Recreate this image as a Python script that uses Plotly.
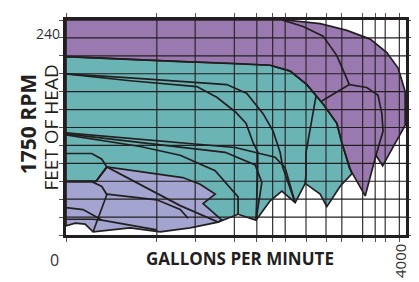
import plotly.graph_objects as go

# ---------------- data (GPM, feet of head) ----------------
x_ticks = [0, 1090, 1550, 2020, 2290, 2480, 2630, 2880, 3120, 3310, 3560, 3710, 3830, 4000]
y_ticks = [20, 40, 60, 80, 100, 120, 140, 160, 180, 200, 220, 240, 260]

# purple family (largest pumps)
purple_gpm = [0, 2630, 3050, 3370, 3650, 3850, 3985, 4070, 4070, 3800, 3720, 3590, 3480, 3400,
              3310, 3250, 3085, 2890, 2690, 2450, 1970, 1310, 0]
purple_ft = [260, 260, 256, 248.4, 238.7, 223.6, 206.3, 180.3, 142.5, 97.1, 109, 63.6, 81.9, 94.9,
             123.1, 144.7, 166.3, 187.9, 203, 209.5, 211.7, 213.8, 219.2]
purple_a_gpm = [2600, 2845, 3085, 3250, 3350, 3400]
purple_a_ft = [259.8, 252.8, 242, 220.3, 198.7, 187.9]
purple_b_gpm = [3400, 3070]
purple_b_ft = [187.9, 169.5]
purple_c_gpm = [3400, 3610, 3745, 3790, 3805, 3720]
purple_c_ft = [187.9, 184.7, 176, 155.5, 136, 109]

# teal family
teal_gpm = [0, 1310, 1970, 2450, 2690, 2890, 3085, 3250, 3310, 3430, 3290, 3130, 3050, 2870,
            2750, 2590, 2450, 2280, 2065, 1825, 1370, 490, 360, 0]
teal_ft = [219.2, 213.8, 211.7, 209.5, 203, 187.9, 166.3, 144.7, 123.1, 88.4, 74.4, 51.7, 65.7, 77.6,
           56, 69, 58.2, 36.6, 43.1, 34.4, 52.8, 96, 79.8, 79.8]
teal_2_gpm = [0, 770, 1570, 1810, 2030, 2160, 2245, 2300, 2300, 2280]
teal_2_ft = [199.8, 192.2, 185.7, 173.8, 157.6, 144.7, 123.1, 113, 90, 36.6]
teal_3_gpm = [0, 770, 1930, 2170, 2365, 2485, 2570, 2600, 2750]
teal_3_ft = [199.8, 195.5, 187.9, 178.1, 155.5, 136, 112, 96, 56]
teal_5_gpm = [3000, 2930, 2880, 2880, 2870]
teal_5_ft = [175, 136, 112, 87.4, 77.6]
teal_f1_gpm = [0, 1310, 2030, 2510, 2630, 2750]
teal_f1_ft = [133.9, 123.1, 117.7, 106.9, 95, 56]
teal_f2_gpm = [0, 1310, 1910, 2270, 2350, 2280]
teal_f2_ft = [132.8, 118.8, 112.3, 98.3, 78.8, 36.6]
teal_f3_gpm = [0, 890, 1370, 1790, 2065, 2065]
teal_f3_ft = [131.7, 118.8, 109, 91.7, 62.5, 43.1]
teal_small_gpm = [0, 310, 430, 490, 360]
teal_small_ft = [111, 111, 104.6, 96, 79.8]

# lavender family
lav_gpm = [0, 360, 490, 1010, 1400, 1610, 1790, 1645, 1870, 1825, 1490, 1130, 770, 325, 230, 110, 0]
lav_ft = [79.8, 79.8, 96, 89.5, 84.1, 76.6, 65.7, 55, 36.6, 34.4, 27.9, 23.6, 27.9, 23.6, 32.2, 33.3, 30.1]
lav_1_gpm = [0, 310, 430, 490, 325]
lav_1_ft = [79.5, 79.5, 74.2, 65, 23.6]
lav_2_gpm = [490, 1090, 1370, 1465]
lav_2_ft = [65.7, 59.3, 48.5, 38.7]
lav_3_gpm = [0, 205, 370, 430]
lav_3_ft = [50.6, 48.4, 39.8, 36.6]
lav_4_gpm = [0, 325, 430, 1090]
lav_4_ft = [37.6, 37.6, 36.6, 25.8]

PURPLE = "#9a79b0"
TEAL = "#6ab4b6"
LAV = "#a3a4cf"
INK = "#231f20"

fig = go.Figure()

regions = [(purple_gpm, purple_ft, PURPLE), (teal_gpm, teal_ft, TEAL), (lav_gpm, lav_ft, LAV)]
for gx, gy, col in regions:
    fig.add_trace(go.Scatter(x=gx, y=gy, mode="lines", fill="toself", fillcolor=col,
                             line=dict(width=0), hoverinfo="skip", showlegend=False))

# gridlines drawn above the fills
gx, gy = [], []
for v in x_ticks[1:]:
    gx += [v, v, None]
    gy += [y_ticks[0], y_ticks[-1], None]
for v in y_ticks[1:-1]:
    gx += [0, 4080, None]
    gy += [v, v, None]
fig.add_trace(go.Scatter(x=gx, y=gy, mode="lines", line=dict(color=INK, width=1.1),
                         hoverinfo="skip", showlegend=False))

outlines = [
    (purple_gpm + purple_gpm[:1], purple_ft + purple_ft[:1]),
    (purple_a_gpm, purple_a_ft), (purple_b_gpm, purple_b_ft), (purple_c_gpm, purple_c_ft),
    (teal_gpm + teal_gpm[:1], teal_ft + teal_ft[:1]),
    (teal_2_gpm, teal_2_ft), (teal_3_gpm, teal_3_ft), (teal_5_gpm, teal_5_ft),
    (teal_f1_gpm, teal_f1_ft), (teal_f2_gpm, teal_f2_ft), (teal_f3_gpm, teal_f3_ft),
    (teal_small_gpm, teal_small_ft),
    (lav_gpm + lav_gpm[:1], lav_ft + lav_ft[:1]),
    (lav_1_gpm, lav_1_ft), (lav_2_gpm, lav_2_ft), (lav_3_gpm, lav_3_ft), (lav_4_gpm, lav_4_ft),
]
for ox, oy in outlines:
    fig.add_trace(go.Scatter(x=ox, y=oy, mode="lines", line=dict(color=INK, width=1.7),
                             hoverinfo="skip", showlegend=False))

axis_common = dict(showgrid=False, zeroline=False, showline=True, linewidth=3, linecolor=INK,
                   mirror="ticks", ticks="outside", ticklen=4, tickwidth=1, tickcolor="#555",
                   showticklabels=False)
fig.update_xaxes(range=[0, 4080], tickvals=x_ticks, **axis_common)
fig.update_yaxes(range=[20, 260], tickvals=y_ticks, **axis_common)

FONT = "Open Sans"
# page body keeps an 8px default margin, so the figure is 8px smaller and margins shifted
fig.update_layout(
    width=411, height=274, margin=dict(l=58, r=13, t=5, b=47),
    plot_bgcolor="white", paper_bgcolor="white",
    annotations=[
        dict(text="240", xref="paper", x=0, yref="y", y=240, xanchor="right", yanchor="middle",
             xshift=-4, yshift=4, showarrow=False, font=dict(family=FONT, size=14, color="#333")),
        dict(text="0", xref="paper", x=0, yref="paper", y=-0.115, xanchor="center", yanchor="middle",
             xshift=-11.5, showarrow=False, font=dict(family=FONT, size=16, color="#333")),
        dict(text="4000", xref="paper", x=0.983, yref="paper", y=-0.12, xanchor="center",
             yanchor="middle", textangle=-90, showarrow=False,
             font=dict(family=FONT, size=15, color="#333")),
        dict(text="<b>GALLONS PER MINUTE</b>", xref="paper", x=0.512, yref="paper", y=-0.111,
             xanchor="center", yanchor="middle", showarrow=False,
             font=dict(family=FONT, size=17, color=INK)),
        dict(text="<b>1750 RPM</b>", xref="paper", x=0, xshift=-38.5, yref="paper", y=0.513,
             xanchor="center", yanchor="middle", textangle=-90, showarrow=False,
             font=dict(family=FONT, size=21, color=INK)),
        dict(text="FEET OF HEAD", xref="paper", x=0, xshift=-16, yref="paper", y=0.5,
             xanchor="center", yanchor="middle", textangle=-90, showarrow=False,
             font=dict(family=FONT, size=19, color=INK)),
    ],
)

fig.write_html("out.html")
